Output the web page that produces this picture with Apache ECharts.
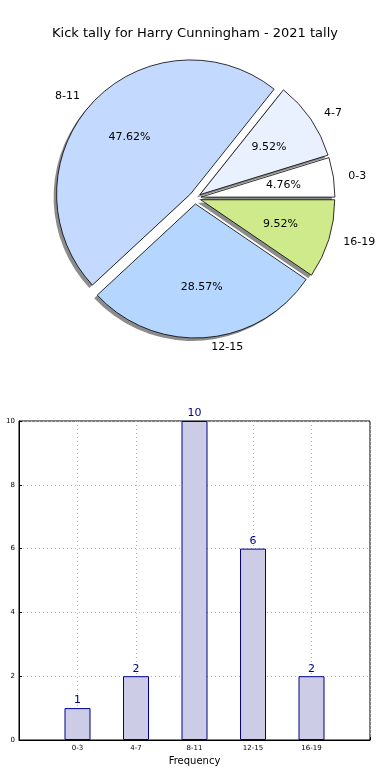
<!DOCTYPE html>
<html><head><meta charset="utf-8">
<script src="https://cdn.jsdelivr.net/npm/echarts@6/dist/echarts.min.js"></script>
<style>html,body{margin:0;padding:0;background:#fff}#c{width:390px;height:780px}</style>
</head><body><div id="c"></div>
<script>
const categories = ['0-3', '4-7', '8-11', '12-15', '16-19'];
const counts = [1, 2, 10, 6, 2];
const sliceColors = ['#ffffff', '#eaf1fe', '#c4d9fe', '#b5d6fe', '#cfea8b'];
const xPositions = [1, 2, 3, 4, 5];
const titleText = 'Kick tally for Harry Cunningham - 2021 tally';

const total = counts.reduce((a, b) => a + b, 0);
const FONT = 'DejaVu Sans';
const R = 134;
const center = [195, 198];
const shadowCenter = [192, 201];
const offset = 6;

const pieData = categories.map((c, i) => ({
  name: c, value: counts[i], selected: true,
  itemStyle: { color: sliceColors[i] }
}));
const plainData = categories.map((c, i) => ({
  name: c, value: counts[i], selected: true
}));

const chart = echarts.init(document.getElementById('c'), null, { renderer: 'canvas' });
chart.setOption({
  animation: false,
  backgroundColor: '#fff',
  textStyle: { fontFamily: FONT },
  title: {
    text: titleText, left: 'center', top: 22,
    textStyle: { fontFamily: FONT, fontSize: 13, fontWeight: 'normal', color: '#000' }
  },
  grid: {
    left: 19, top: 421, width: 351, height: 319,
    containLabel: false, outerBoundsMode: 'none',
    show: true, borderColor: '#000', borderWidth: 1, backgroundColor: 'transparent'
  },
  xAxis: {
    type: 'value', min: 0, max: 6, interval: 1,
    name: 'Frequency', nameLocation: 'middle', nameGap: 16, nameMoveOverlap: false,
    nameTextStyle: { fontFamily: FONT, fontSize: 10, color: '#000' },
    axisLine: { show: true, lineStyle: { color: '#000' } },
    axisTick: { show: true, inside: true, length: 3, lineStyle: { color: '#000' } },
    axisLabel: {
      fontSize: 7, color: '#000', margin: 5, fontFamily: FONT,
      formatter: v => (v >= 1 && v <= categories.length) ? categories[v - 1] : ''
    },
    splitLine: { show: true, lineStyle: { color: '#b8b8b8', type: [1, 3], width: 1 } }
  },
  yAxis: {
    type: 'value', min: 0, max: 10, interval: 2,
    name: 'Number of Kicks', nameLocation: 'middle', nameGap: 17, nameMoveOverlap: false,
    nameTextStyle: { fontFamily: FONT, fontSize: 10, color: '#000' },
    axisLine: { show: true, lineStyle: { color: '#000' } },
    axisTick: { show: true, inside: true, length: 3, lineStyle: { color: '#000' } },
    axisLabel: { fontSize: 7, color: '#000', margin: 4, fontFamily: FONT },
    splitLine: { show: true, lineStyle: { color: '#b8b8b8', type: [1, 3], width: 1 } }
  },
  series: [
    {
      type: 'pie', center: shadowCenter, radius: R,
      startAngle: 0, clockwise: false,
      selectedMode: 'multiple', selectedOffset: offset,
      itemStyle: { color: '#8c8c8c', borderWidth: 0 },
      emphasis: { disabled: true }, silent: true,
      label: { show: false }, labelLine: { show: false },
      z: 1,
      data: plainData
    },
    {
      type: 'pie', center: center, radius: R,
      startAngle: 0, clockwise: false,
      selectedMode: 'multiple', selectedOffset: offset,
      itemStyle: { borderColor: '#000', borderWidth: 0.8 },
      emphasis: { disabled: true },
      label: {
        show: true, position: 'outside', formatter: '{b}',
        fontFamily: FONT, fontSize: 11, color: '#000'
      },
      labelLine: { show: false, length: 10, length2: 0 },
      z: 2,
      data: pieData
    },
    {
      type: 'pie', center: center, radius: R * 1.2,
      startAngle: 0, clockwise: false,
      selectedMode: 'multiple', selectedOffset: offset,
      itemStyle: { color: 'rgba(0,0,0,0)', borderWidth: 0 },
      emphasis: { disabled: true },
      silent: true,
      label: {
        show: true, position: 'inside',
        formatter: p => (p.value / total * 100).toFixed(2) + '%',
        fontFamily: FONT, fontSize: 11, color: '#000'
      },
      labelLine: { show: false },
      z: 3,
      data: plainData
    },
    {
      type: 'bar',
      barWidth: 26,
      data: xPositions.map((x, i) => [x, counts[i]]),
      itemStyle: { color: '#cccce6', borderColor: '#00008b', borderWidth: 1 },
      label: {
        show: true, position: 'top', distance: 2,
        fontFamily: FONT, fontSize: 11, color: '#00008b',
        formatter: p => p.value[1]
      },
      emphasis: { disabled: true }
    }
  ]
});
</script>
</body></html>
